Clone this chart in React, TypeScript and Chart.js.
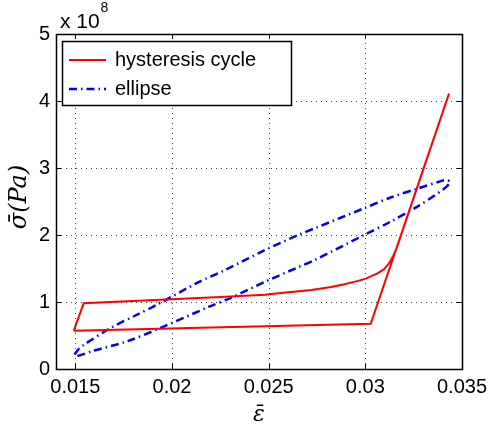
import React, { useEffect, useRef } from "react";
import { Chart, registerables } from "chart.js";

Chart.register(...registerables);

// Strain (ε̄) and stress (σ̄, in units of 1e8 Pa)
const hysteresisX = [
  0.01492, 0.03028, 0.03433, 0.03182, 0.03165, 0.03148, 0.03131, 0.03114,
  0.03097, 0.03063, 0.02999, 0.02943, 0.02892, 0.02823, 0.02721, 0.0255,
  0.02482, 0.0225, 0.0214, 0.02, 0.01543, 0.01492,
];
const hysteresisY = [
  0.571, 0.676, 4.11, 1.975, 1.83, 1.71, 1.615, 1.545,
  1.49, 1.428, 1.345, 1.3, 1.265, 1.225, 1.18, 1.129,
  1.108, 1.075, 1.058, 1.04, 0.98, 0.571,
];

const ellipseX = [
  0.01495, 0.01515, 0.01543, 0.01679, 0.01816, 0.01919, 0.0214, 0.02277,
  0.02482, 0.02653, 0.02738, 0.02994, 0.03131, 0.03267, 0.03387, 0.0342,
  0.03438, 0.03412, 0.03267, 0.03131, 0.02994, 0.02738, 0.02653, 0.02482,
  0.02311, 0.02192, 0.0193, 0.01765, 0.01594, 0.01509, 0.01495,
];
const ellipseY = [
  0.215, 0.29, 0.358, 0.607, 0.806, 0.955, 1.3, 1.48,
  1.776, 2.0, 2.1, 2.4, 2.56, 2.69, 2.8, 2.82,
  2.79, 2.7, 2.42, 2.2, 2.0, 1.627, 1.52, 1.303,
  1.07, 0.93, 0.6, 0.41, 0.273, 0.194, 0.215,
];

const xTicks = [0.015, 0.02, 0.025, 0.03, 0.035];
const yTicks = [0, 1, 2, 3, 4, 5];
const seriesNames = ["hysteresis cycle", "ellipse"];

const SANS = '"Liberation Sans", Arial, Helvetica, sans-serif';
const SERIF = '"DejaVu Serif", "Liberation Serif", serif';
const ELLIPSE_DASH = [8, 4, 1.5, 4];

const decorPlugin = {
  id: "decor",
  beforeDatasetsDraw(chart: any) {
    const { ctx, chartArea: a, scales } = chart;
    ctx.save();
    ctx.strokeStyle = "rgba(0,0,0,0.75)";
    ctx.lineWidth = 1;
    ctx.setLineDash([1, 4]);
    xTicks.forEach((v) => {
      const px = Math.round(scales.x.getPixelForValue(v)) + 0.5;
      if (px < a.left + 2 || px > a.right - 2) return;
      ctx.beginPath();
      ctx.moveTo(px, a.bottom);
      ctx.lineTo(px, a.top);
      ctx.stroke();
    });
    yTicks.forEach((v) => {
      const py = Math.round(scales.y.getPixelForValue(v)) + 0.5;
      if (py < a.top + 2 || py > a.bottom - 2) return;
      ctx.beginPath();
      ctx.moveTo(a.left, py);
      ctx.lineTo(a.right, py);
      ctx.stroke();
    });
    ctx.restore();
  },
  afterDatasetsDraw(chart: any) {
    const { ctx, chartArea: a, scales } = chart;
    ctx.save();
    ctx.setLineDash([]);
    ctx.strokeStyle = "#000";
    ctx.lineWidth = 1;
    const tl = 5;
    // inward ticks on all four sides
    xTicks.forEach((v) => {
      const px = Math.round(scales.x.getPixelForValue(v)) + 0.5;
      ctx.beginPath();
      ctx.moveTo(px, a.bottom);
      ctx.lineTo(px, a.bottom - tl);
      ctx.moveTo(px, a.top);
      ctx.lineTo(px, a.top + tl);
      ctx.stroke();
    });
    yTicks.forEach((v) => {
      const py = Math.round(scales.y.getPixelForValue(v)) + 0.5;
      ctx.beginPath();
      ctx.moveTo(a.left, py);
      ctx.lineTo(a.left + tl, py);
      ctx.moveTo(a.right, py);
      ctx.lineTo(a.right - tl, py);
      ctx.stroke();
    });
    // axes box
    ctx.lineWidth = 1.5;
    ctx.strokeRect(Math.round(a.left) + 0.5, Math.round(a.top) + 0.5, Math.round(a.right - a.left), Math.round(a.bottom - a.top));

    // legend
    const lx = 62, ly = 41, lw = 229, lh = 64;
    ctx.fillStyle = "#fff";
    ctx.fillRect(lx, ly, lw, lh);
    ctx.lineWidth = 1.5;
    ctx.strokeStyle = "#000";
    ctx.strokeRect(lx + 0.5, ly + 0.5, lw, lh);
    const ds = chart.data.datasets;
    const rows = [60, 89];
    rows.forEach((ry, i) => {
      ctx.beginPath();
      ctx.strokeStyle = ds[i].borderColor;
      ctx.lineWidth = ds[i].borderWidth;
      ctx.setLineDash(ds[i].borderDash || []);
      ctx.moveTo(69, ry);
      ctx.lineTo(106, ry);
      ctx.stroke();
      ctx.setLineDash([]);
      ctx.fillStyle = "#000";
      ctx.font = `20px ${SANS}`;
      ctx.textBaseline = "middle";
      ctx.textAlign = "left";
      ctx.fillText(seriesNames[i], 115, ry);
    });

    // exponent label
    ctx.fillStyle = "#000";
    ctx.textAlign = "left";
    ctx.textBaseline = "alphabetic";
    ctx.font = `21px ${SANS}`;
    ctx.fillText("x 10", 60, 28);
    ctx.font = `14px ${SANS}`;
    ctx.fillText("8", 100.5, 12);

    // axis titles
    ctx.font = `italic 22px ${SERIF}`;
    ctx.textAlign = "center";
    ctx.textBaseline = "alphabetic";
    ctx.fillText("\u03B5\u0304", (a.left + a.right) / 2, 421);

    ctx.save();
    ctx.translate(26, 197);
    ctx.rotate(-Math.PI / 2);
    ctx.font = `italic 24px ${SERIF}`;
    ctx.textAlign = "center";
    ctx.textBaseline = "alphabetic";
    ctx.fillText("\u03C3\u0304(Pa)", 0, 0);
    ctx.restore();

    ctx.restore();
  },
};

export default function App() {
  const ref = useRef<HTMLCanvasElement | null>(null);

  useEffect(() => {
    document.body.style.margin = "0";
    const canvas = ref.current;
    if (!canvas) return;
    const chart = new Chart(canvas, {
      type: "line",
      data: {
        datasets: [
          {
            label: seriesNames[0],
            data: hysteresisX.map((x, i) => ({ x, y: hysteresisY[i] })),
            borderColor: "#ff0000",
            backgroundColor: "#ff0000",
            borderWidth: 2,
            pointRadius: 0,
            tension: 0,
            fill: false,
          },
          {
            label: seriesNames[1],
            data: ellipseX.map((x, i) => ({ x, y: ellipseY[i] })),
            borderColor: "#0000ff",
            backgroundColor: "#0000ff",
            borderWidth: 2.5,
            borderDash: ELLIPSE_DASH,
            pointRadius: 0,
            tension: 0.3,
            fill: false,
          },
        ],
      },
      options: {
        responsive: false,
        animation: false,
        devicePixelRatio: 1,
        layout: { padding: { top: 34, right: 28, left: 0, bottom: 0 } },
        plugins: {
          legend: { display: false },
          tooltip: { enabled: false },
        },
        scales: {
          x: {
            type: "linear",
            min: 0.014,
            max: 0.035,
            grid: { display: false, drawTicks: false },
            border: { display: false },
            afterBuildTicks: (scale: any) => {
              scale.ticks = xTicks.map((v) => ({ value: v }));
            },
            afterFit: (scale: any) => {
              scale.height = 58;
            },
            ticks: {
              color: "#000",
              padding: 6,
              maxRotation: 0,
              autoSkip: false,
              font: { family: SANS, size: 20 },
              callback: (v: any) => String(+Number(v).toFixed(3)),
            },
          },
          y: {
            type: "linear",
            min: 0,
            max: 5,
            grid: { display: false, drawTicks: false },
            border: { display: false },
            afterBuildTicks: (scale: any) => {
              scale.ticks = yTicks.map((v) => ({ value: v }));
            },
            afterFit: (scale: any) => {
              scale.width = 56;
            },
            ticks: {
              color: "#000",
              padding: 6,
              autoSkip: false,
              font: { family: SANS, size: 20 },
              callback: (v: any) => String(v),
            },
          },
        },
      },
      plugins: [decorPlugin],
    } as any);
    return () => chart.destroy();
  }, []);

  return (
    <div style={{ width: 493, height: 427, background: "#fff" }}>
      <canvas ref={ref} width={493} height={427} />
    </div>
  );
}
